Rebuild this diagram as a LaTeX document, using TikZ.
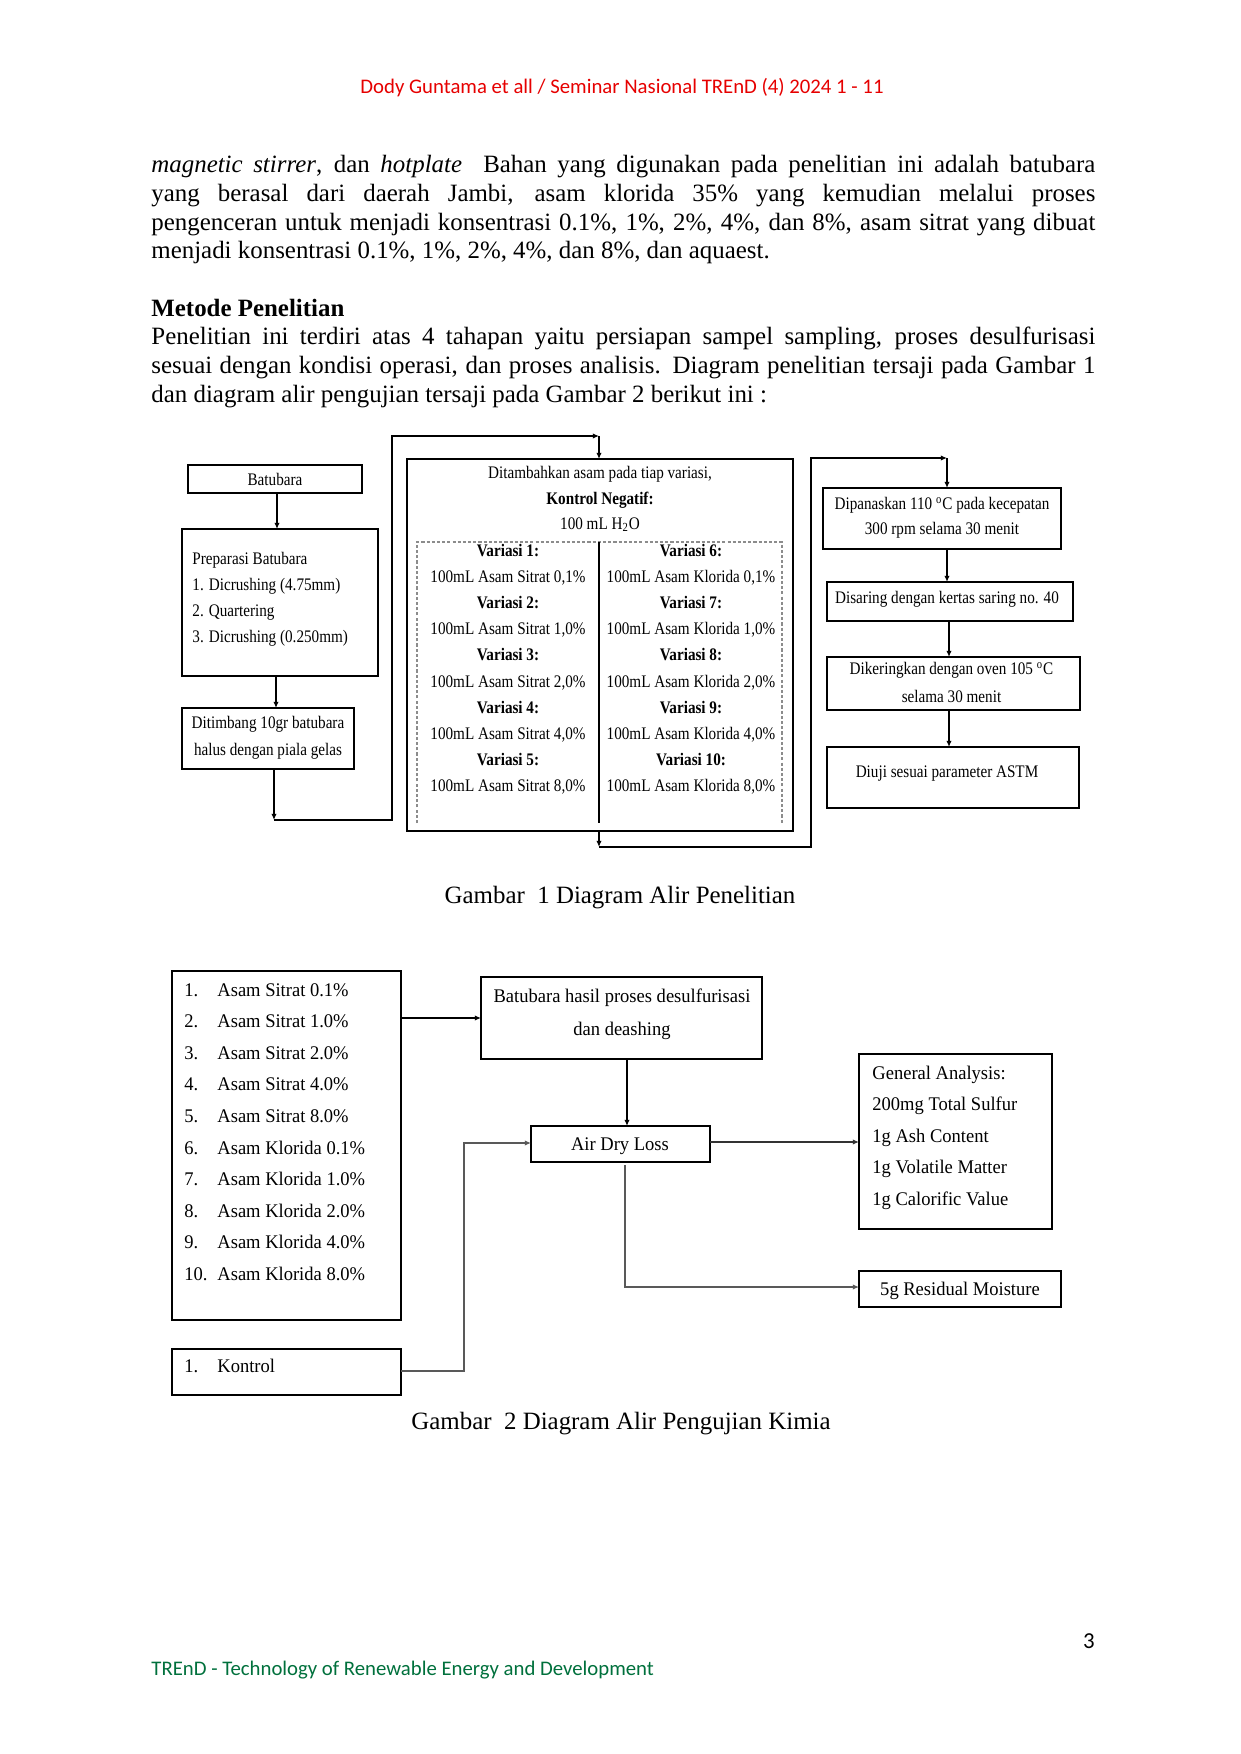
\documentclass[tikz,border=0pt]{standalone}
\usepackage{fontspec}
\setmainfont{Liberation Serif}
\newfontfamily\fa[FakeStretch=0.86]{Liberation Serif}
\newfontfamily\fb[FakeStretch=0.96]{Liberation Serif}
\newfontfamily\carlitofont{Carlito}
\usetikzlibrary{arrows.meta,fit}
\definecolor{trendgreen}{RGB}{0,112,60}
\definecolor{hdrred}{RGB}{230,0,0}
\begin{document}
\begin{tikzpicture}[x=0.4818pt,y=-0.4818pt,
  bx/.style={draw, line width=0.8pt, inner sep=0pt, outer sep=0pt},
  ta/.style={inner sep=0pt, font=\fa\fontsize{8.5}{10}\selectfont, anchor=base},
  tb/.style={inner sep=0pt, font=\fb\fontsize{9.3}{11}\selectfont, anchor=base},
  body/.style={inner sep=0pt, font=\fontsize{12}{14}\selectfont, anchor=base west},
  arr/.style={line width=0.6pt, -{Latex[length=3pt,width=2.6pt]}},
  garr/.style={line width=0.9pt, draw=black!65, -{Latex[length=3pt,width=2.6pt]}},
  dsh/.style={draw=black!45, line width=0.5pt, dash pattern=on 1.5pt off 1pt}
]
\useasboundingbox (0,0) rectangle (1240,1754);

% ---------- header, body, footer ----------
\node[inner sep=0pt, anchor=base, font=\carlitofont\fontsize{10}{12}\selectfont, text=hdrred] (hdr) at (622,94)
  {Dody Guntama et all / Seminar Nasional TREnD (4) 2024 1 - 11};

\node[body] (l1) at (151,173) {\makebox[454.8pt][s]{\textit{magnetic stirrer}, dan \textit{hotplate}\ \ Bahan yang digunakan pada penelitian ini adalah batubara}};
\node[body] (l2) at (151,202) {\makebox[454.8pt][s]{yang berasal dari daerah Jambi, asam klorida 35\% yang kemudian melalui proses}};
\node[body] (l3) at (151,230.5) {\makebox[454.8pt][s]{pengenceran untuk menjadi konsentrasi 0.1\%, 1\%, 2\%, 4\%, dan 8\%, asam sitrat yang dibuat}};
\node[body] (l4) at (151,259) {menjadi konsentrasi 0.1\%, 1\%, 2\%, 4\%, dan 8\%, dan aquaest.};
\node[body] (h1) at (151,316.5) {\bfseries Metode Penelitian};
\node[body] (l5) at (151,345) {\makebox[454.8pt][s]{Penelitian ini terdiri atas 4 tahapan yaitu persiapan sampel sampling, proses desulfurisasi}};
\node[body] (l6) at (151,373.5) {\makebox[454.8pt][s]{sesuai dengan kondisi operasi, dan proses analisis. Diagram penelitian tersaji pada Gambar 1}};
\node[body] (l7) at (151,402) {dan diagram alir pengujian tersaji pada Gambar 2 berikut ini :};

\node[inner sep=0pt, anchor=base east, font=\carlitofont\fontsize{11}{13}\selectfont] (pg) at (1095,1648) {3};
\node[inner sep=0pt, anchor=base west, font=\carlitofont\fontsize{10}{12}\selectfont, text=trendgreen] (ftr) at (151,1675)
  {TREnD - Technology of Renewable Energy and Development};

% ---------- Figure 1 ----------
\node[bx, fit={(188,465) (362,493)}] (bat) {};
\node[ta] (batt) at (275,485) {Batubara};

\node[bx, fit={(182,529) (378,676)}] (prep) {};
\node[ta, anchor=base west] (p1) at (192,564) {Preparasi Batubara};
\node[ta, anchor=base west] (p2) at (192,590.5) {1. Dicrushing (4.75mm)};
\node[ta, anchor=base west] (p3) at (192,616) {2. Quartering};
\node[ta, anchor=base west] (p4) at (192,642) {3. Dicrushing (0.250mm)};

\node[bx, fit={(182,708) (354,769)}] (dit) {};
\node[ta] (d1) at (268,728.5) {Ditimbang 10gr batubara};
\node[ta] (d2) at (268,755.5) {halus dengan piala gelas};

\node[bx, fit={(407,459) (793,831)}] (main) {};
\node[ta] (m1) at (600,478.5) {Ditambahkan asam pada tiap variasi,};
\node[ta] (m2) at (600,504.5) {\bfseries Kontrol Negatif:};
\node[ta] (m3) at (600,529.5) {100 mL H\textsubscript{2}O};
\draw[dsh] (417,823) -- (417,542) -- (782,542) -- (782,823);
\draw[line width=0.6pt] (599,542) -- (599,823);

\node[ta] (v1) at (508,556.5) {\bfseries Variasi 1:};
\node[ta] (s1) at (508,582.6) {100mL Asam Sitrat 0,1\%};
\node[ta] (v2) at (508,608.7) {\bfseries Variasi 2:};
\node[ta] (s2) at (508,634.8) {100mL Asam Sitrat 1,0\%};
\node[ta] (v3) at (508,660.9) {\bfseries Variasi 3:};
\node[ta] (s3) at (508,687.0) {100mL Asam Sitrat 2,0\%};
\node[ta] (v4) at (508,713.1) {\bfseries Variasi 4:};
\node[ta] (s4) at (508,739.2) {100mL Asam Sitrat 4,0\%};
\node[ta] (v5) at (508,765.3) {\bfseries Variasi 5:};
\node[ta] (s5) at (508,791.4) {100mL Asam Sitrat 8,0\%};

\node[ta] (v6) at (691,556.5) {\bfseries Variasi 6:};
\node[ta] (k6) at (691,582.6) {100mL Asam Klorida 0,1\%};
\node[ta] (v7) at (691,608.7) {\bfseries Variasi 7:};
\node[ta] (k7) at (691,634.8) {100mL Asam Klorida 1,0\%};
\node[ta] (v8) at (691,660.9) {\bfseries Variasi 8:};
\node[ta] (k8) at (691,687.0) {100mL Asam Klorida 2,0\%};
\node[ta] (v9) at (691,713.1) {\bfseries Variasi 9:};
\node[ta] (k9) at (691,739.2) {100mL Asam Klorida 4,0\%};
\node[ta] (v10) at (691,765.3) {\bfseries Variasi 10:};
\node[ta] (k10) at (691,791.4) {100mL Asam Klorida 8,0\%};

\node[bx, fit={(823,488) (1061,549)}] (pan) {};
\node[ta] (pa1) at (942,509.5) {Dipanaskan 110 \textsuperscript{o}C pada kecepatan};
\node[ta] (pa2) at (942,534.5) {300 rpm selama 30 menit};

\node[bx, fit={(827,582) (1073,621)}] (sar) {};
\node[ta] (sa1) at (947,603.5) {Disaring dengan kertas saring no. 40};

\node[bx, fit={(827,657) (1080,710)}] (ker) {};
\node[ta] (ke1) at (951.5,674.5) {Dikeringkan dengan oven 105 \textsuperscript{o}C};
\node[ta] (ke2) at (951.5,702.5) {selama 30 menit};

\node[bx, fit={(827,747) (1079,808)}] (uji) {};
\node[ta] (uj1) at (947,777.5) {Diuji sesuai parameter ASTM};

% figure 1 connectors
\coordinate (ax1) at (277,0);
\coordinate (ax2) at (276,0);
\coordinate (ax3) at (274,0);
\coordinate (c1) at (274,820);
\coordinate (c2) at (599,436);
\coordinate (c3) at (599,847);
\coordinate (c4) at (947,458);
\coordinate (ax4) at (947,0);
\coordinate (ax5) at (949,0);
\draw[arr] (bat.south -| ax1) -- (prep.north -| ax1);
\draw[arr] (prep.south -| ax2) -- (dit.north -| ax2);
\draw[arr] (dit.south -| ax3) -- (c1);
\draw[arr] (c1) -- (392,820) -- (392,436) -- (c2);
\draw[arr] (c2) -- (main.north -| c2);
\draw[arr] (main.south -| c3) -- (c3);
\draw[arr] (c3) -- (811,847) -- (811,458) -- (c4);
\draw[arr] (c4) -- (pan.north -| c4);
\draw[arr] (pan.south -| ax4) -- (sar.north -| ax4);
\draw[arr] (sar.south -| ax5) -- (ker.north -| ax5);
\draw[arr] (ker.south -| ax5) -- (uji.north -| ax5);

\node[inner sep=0pt, anchor=base, font=\fontsize{12}{14}\selectfont] (cap1) at (620,903) {Gambar\ \ 1 Diagram Alir Penelitian};

% ---------- Figure 2 ----------
\node[bx, fit={(172,971) (401,1320)}] (list) {};
\foreach \t [count=\k] in {Asam Sitrat 0.1\%, Asam Sitrat 1.0\%, Asam Sitrat 2.0\%, Asam Sitrat 4.0\%, Asam Sitrat 8.0\%, Asam Klorida 0.1\%, Asam Klorida 1.0\%, Asam Klorida 2.0\%, Asam Klorida 4.0\%, Asam Klorida 8.0\%}{
  \node[tb, anchor=base west] (n\k) at (184,{996+31.6*(\k-1)}) {\k.};
  \node[tb, anchor=base west] (i\k) at (217,{996+31.6*(\k-1)}) {\t};
}
\node[bx, fit={(172,1349) (401,1395)}] (kon) {};
\node[tb, anchor=base west] (kn) at (184,1372) {1.};
\node[tb, anchor=base west] (kt) at (217,1372) {Kontrol};

\node[bx, fit={(481,977) (762,1059)}] (hsl) {};
\node[tb] (hs1) at (622,1002) {Batubara hasil proses desulfurisasi};
\node[tb] (hs2) at (622,1035) {dan deashing};

\node[bx, fit={(531,1126) (710,1162)}] (adl) {};
\node[tb] (ad1) at (620,1150) {Air Dry Loss};

\node[bx, fit={(859,1054) (1052,1229)}] (gen) {};
\node[tb, anchor=base west] (g1) at (872,1079) {General Analysis:};
\node[tb, anchor=base west] (g2) at (872,1110.5) {200mg Total Sulfur};
\node[tb, anchor=base west] (g3) at (872,1142) {1g Ash Content};
\node[tb, anchor=base west] (g4) at (872,1173.5) {1g Volatile Matter};
\node[tb, anchor=base west] (g5) at (872,1205) {1g Calorific Value};

\node[bx, fit={(859,1271) (1061,1307)}] (res) {};
\node[tb] (re1) at (960,1295) {5g Residual Moisture};

% figure 2 connectors
\coordinate (e1) at (0,1018);
\coordinate (ax6) at (627,0);
\coordinate (e2) at (0,1371);
\coordinate (e3) at (0,1143);
\coordinate (e4) at (0,1142);
\coordinate (d5) at (625,1165);
\coordinate (e5) at (0,1287);
\draw[arr, line width=0.8pt] (list.east |- e1) -- (hsl.west |- e1);
\draw[arr] (hsl.south -| ax6) -- (adl.north -| ax6);
\draw[garr] (kon.east |- e2) -- (464,1371) -- (464,1143) -- (adl.west |- e3);
\draw[arr, line width=0.9pt, draw=black!80] (adl.east |- e4) -- (gen.west |- e4);
\draw[garr] (d5) -- (625,1287) -- (res.west |- e5);

\node[inner sep=0pt, anchor=base, font=\fontsize{12}{14}\selectfont] (cap2) at (621,1429) {Gambar\ \ 2 Diagram Alir Pengujian Kimia};
\end{tikzpicture}
\end{document}
